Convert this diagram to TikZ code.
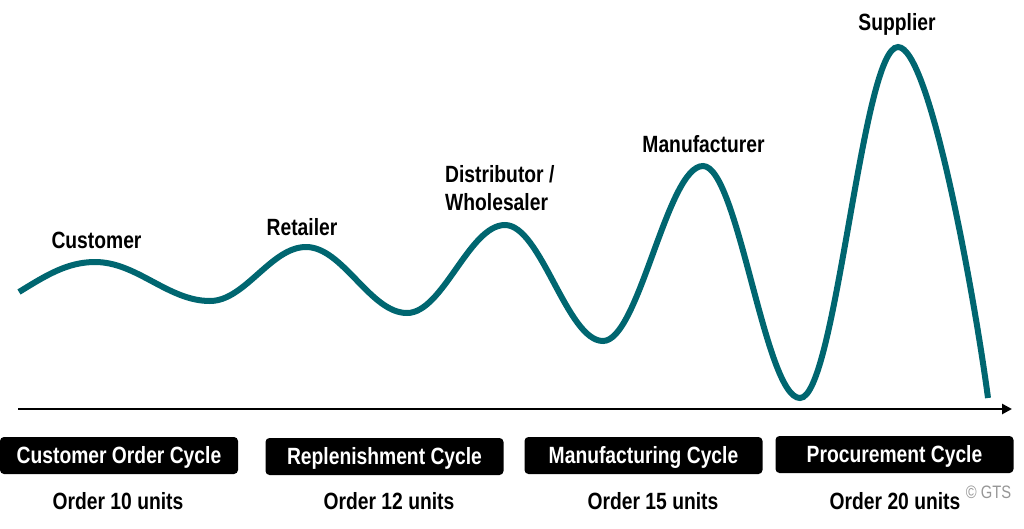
\documentclass[tikz,border=0pt]{standalone}
\usepackage{fontspec}
\setmainfont{Liberation Sans}[FakeStretch=0.82]
\usetikzlibrary{arrows.meta}
\definecolor{wave}{RGB}{0,102,112}
\definecolor{copy}{RGB}{150,150,150}
\begin{document}
\begin{tikzpicture}[x=1pt,y=-1pt,
  lbl/.style={font=\fontsize{23.5}{28}\selectfont\bfseries, inner sep=0pt, anchor=base},
  cyclebox/.style={fill=black, rounded corners=4pt, text=white, minimum width=238pt, minimum height=37pt,
     inner sep=0pt, text height=15pt, text depth=0pt, font=\fontsize{23.5}{28}\selectfont\bfseries},
  wavepath/.style={draw=wave, line width=6pt},
  axis/.style={draw=black, line width=2.6pt, -{Triangle[length=10pt,width=10pt]}}]
\useasboundingbox (0,0) rectangle (1024,528);
% wave
\draw[wavepath] (19,292) .. controls (45,276) and (67,262) .. (95,262)
  .. controls (137,262) and (168,301) .. (210,301)
  .. controls (245,301) and (271,247) .. (306,247)
  .. controls (343,247) and (370,313) .. (407,313)
  .. controls (443,313) and (469,225) .. (505,225)
  .. controls (541,225) and (567,341) .. (603,341)
  .. controls (639,341) and (667,166) .. (703,166)
  .. controls (738,166) and (765,398) .. (800,398)
  .. controls (836,398) and (862,47) .. (898,47)
  .. controls (930,47) and (975,300) .. (988,398);
% axis
\coordinate (axS) at (18,409);
\coordinate (axE) at (1012,409);
\draw[axis] (axS) -- (axE);
% wave labels
\node[lbl] (cust) at (96.5,248) {Customer};
\node[lbl] (ret) at (302,235) {Retailer};
\node[lbl, anchor=base west] (dist1) at (445,182) {Distributor /};
\node[lbl, anchor=base west] (dist2) at (445,210) {Wholesaler};
\node[lbl] (manu) at (703.5,152) {Manufacturer};
\node[lbl] (supp) at (897,30) {Supplier};
% cycle boxes
\node[cyclebox] (b1) at (119,455.5) {Customer Order Cycle};
\node[cyclebox] (b2) at (384.5,456.5) {Replenishment Cycle};
\node[cyclebox] (b3) at (643.5,455.5) {Manufacturing Cycle};
\node[cyclebox] (b4) at (894.5,454.5) {Procurement Cycle};
% order texts
\node[lbl] (o1) at (118,509) {Order 10 units};
\node[lbl] (o2) at (389,509) {Order 12 units};
\node[lbl] (o3) at (653,509) {Order 15 units};
\node[lbl] (o4) at (895,509) {Order 20 units};
\node[font=\fontsize{18}{20}\selectfont, text=copy, inner sep=0pt, anchor=base] (gts) at (988.5,498) {© GTS};
\end{tikzpicture}
\end{document}
